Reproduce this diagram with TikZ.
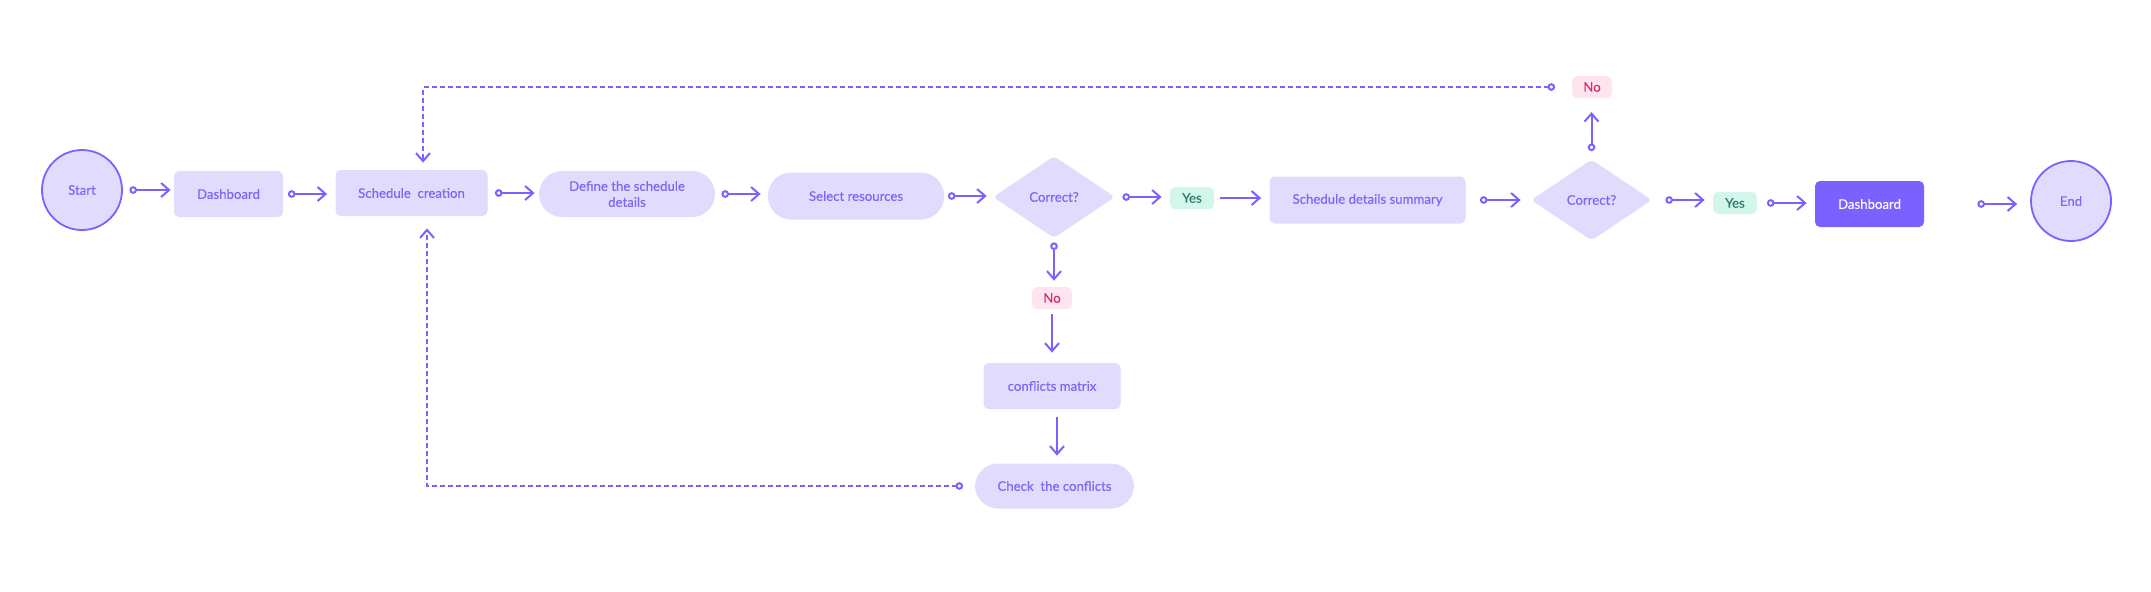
\documentclass[tikz,border=0pt]{standalone}
\usepackage{fontspec}
\setmainfont{Lato}[UprightFeatures={FakeBold=0.35}]
\usetikzlibrary{arrows.meta,shapes.geometric,calc}
\definecolor{vio}{HTML}{7B61FF}
\definecolor{viotext}{HTML}{7E66F2}
\definecolor{lav}{HTML}{E1DCFD}
\definecolor{yesfill}{HTML}{D2F6EB}
\definecolor{yestext}{HTML}{2D7D67}
\definecolor{nofill}{HTML}{FDE4EE}
\definecolor{notext}{HTML}{D42A6B}
\tikzset{
  lbl/.style={font=\fontsize{6.6pt}{8pt}\selectfont, align=center, inner sep=0pt},
  termnode/.style={lbl, circle, draw=vio, line width=0.9pt, fill=lav, text=viotext, minimum size=40pt},
  boxnode/.style={lbl, rectangle, rounded corners=2.5pt, fill=lav, text=viotext},
  pillnode/.style={lbl, rectangle, rounded corners=11.5pt, fill=lav, text=viotext},
  darknode/.style={lbl, rectangle, rounded corners=2.5pt, fill=vio, text=white},
  decnode/.style={lbl, diamond, fill=lav, text=viotext, rounded corners=2pt},
  yesnode/.style={lbl, rectangle, rounded corners=2.5pt, fill=yesfill, text=yestext, minimum width=22pt, minimum height=11pt},
  nonode/.style={lbl, rectangle, rounded corners=2.5pt, fill=nofill, text=notext, minimum width=20pt, minimum height=11pt},
  conn/.style={draw=vio, line width=1pt, {Circle[length=3.8pt,fill=white]}-{Straight Barb[length=4pt,width=7pt]}},
  plainconn/.style={draw=vio, line width=1pt, -{Straight Barb[length=4pt,width=7pt]}},
  dconn/.style={conn, line width=1pt, dash pattern=on 2.5pt off 1.5pt},
}
\begin{document}
\begin{tikzpicture}[x=0.5pt,y=-0.5pt]
\useasboundingbox (0,0) rectangle (2151,591);
% nodes
\node[termnode] (start) at (82,190) {Start};
\node[boxnode, minimum width=54.5pt, minimum height=23pt] (dash1) at (228.5,194) {Dashboard};
\node[boxnode, minimum width=76pt, minimum height=23pt] (sched) at (411.5,193) {Schedule\ \ creation};
\node[pillnode, minimum width=88pt, minimum height=23pt] (define) at (627,194) {Define the schedule\\details};
\node[pillnode, minimum width=88pt, minimum height=23.5pt] (select) at (856,196) {Select resources};
\node[decnode, minimum width=61pt, minimum height=41pt] (d1) at (1054,197) {Correct?};
\node[yesnode] (yes1) at (1192,198) {Yes};
\node[boxnode, minimum width=98pt, minimum height=23.5pt] (summary) at (1367.5,200) {Schedule details summary};
\node[decnode, minimum width=60.5pt, minimum height=40.5pt] (d2) at (1591.5,200) {Correct?};
\node[yesnode] (yes2) at (1735,203) {Yes};
\node[darknode, minimum width=54.5pt, minimum height=23pt] (dash2) at (1869.5,204) {Dashboard};
\node[termnode] (end) at (2071,201) {End};
\node[nonode] (notop) at (1592,87) {No};
\node[nonode] (nobot) at (1052,298) {No};
\node[boxnode, minimum width=68.5pt, minimum height=23pt] (matrix) at (1052,386) {conflicts matrix};
\node[pillnode, minimum width=79.5pt, minimum height=22.5pt] (check) at (1054.5,486) {Check\ \ the conflicts};
\coordinate (mc) at ($(matrix.south)+(5,0)$);
% main row connectors
\draw[conn, shorten <=3.25pt, shorten >=1.5pt] (start.east) -- (start.east -| dash1.west);
\draw[conn, shorten <=2.25pt, shorten >=4pt] (dash1.east) -- (dash1.east -| sched.west);
\draw[conn, shorten <=3.5pt, shorten >=2pt] (sched.east) -- (sched.east -| define.west);
\draw[conn, shorten <=3pt, shorten >=3.5pt] (define.east) -- (define.east -| select.west);
\draw[conn, shorten <=1.75pt, shorten >=3pt] (select.east) -- (select.east -| d1.west);
\draw[conn, shorten <=3.5pt, shorten >=4pt] (d1.east) -- (d1.east -| yes1.west);
\draw[plainconn, shorten <=3pt, shorten >=4pt] (yes1.east) -- (yes1.east -| summary.west);
\draw[conn, shorten <=7pt, shorten >=5pt] (summary.east) -- (summary.east -| d2.west);
\draw[conn, shorten <=6.5pt, shorten >=4pt] (d2.east) -- (d2.east -| yes2.west);
\draw[conn, shorten <=4.75pt, shorten >=4pt] (yes2.east) -- (yes2.east -| dash2.west);
\draw[conn, shorten <=26.5pt, shorten >=6.5pt] (dash2.east) -- (dash2.east -| end.west);
% vertical connectors
\draw[conn, shorten <=2pt, shorten >=3pt] (d1.south) -- (d1.south |- nobot.north);
\draw[plainconn, shorten <=2.5pt, shorten >=5pt] (nobot.south) -- (nobot.south |- matrix.north);
\draw[plainconn, shorten <=4pt, shorten >=3.75pt] (mc) -- (mc |- check.north);
\draw[conn, shorten <=4pt, shorten >=6.85pt] (d2.north) -- (d2.north |- notop.south);
% dashed loops
\draw[dconn, shorten <=8.25pt, shorten >=3.5pt] (notop.west) -| ($(sched.north)+(11.5,0)$);
\draw[dconn, shorten <=5.75pt, shorten >=6pt] (check.west) -| ($(sched.south)+(15.5,0)$);
\end{tikzpicture}
\end{document}
